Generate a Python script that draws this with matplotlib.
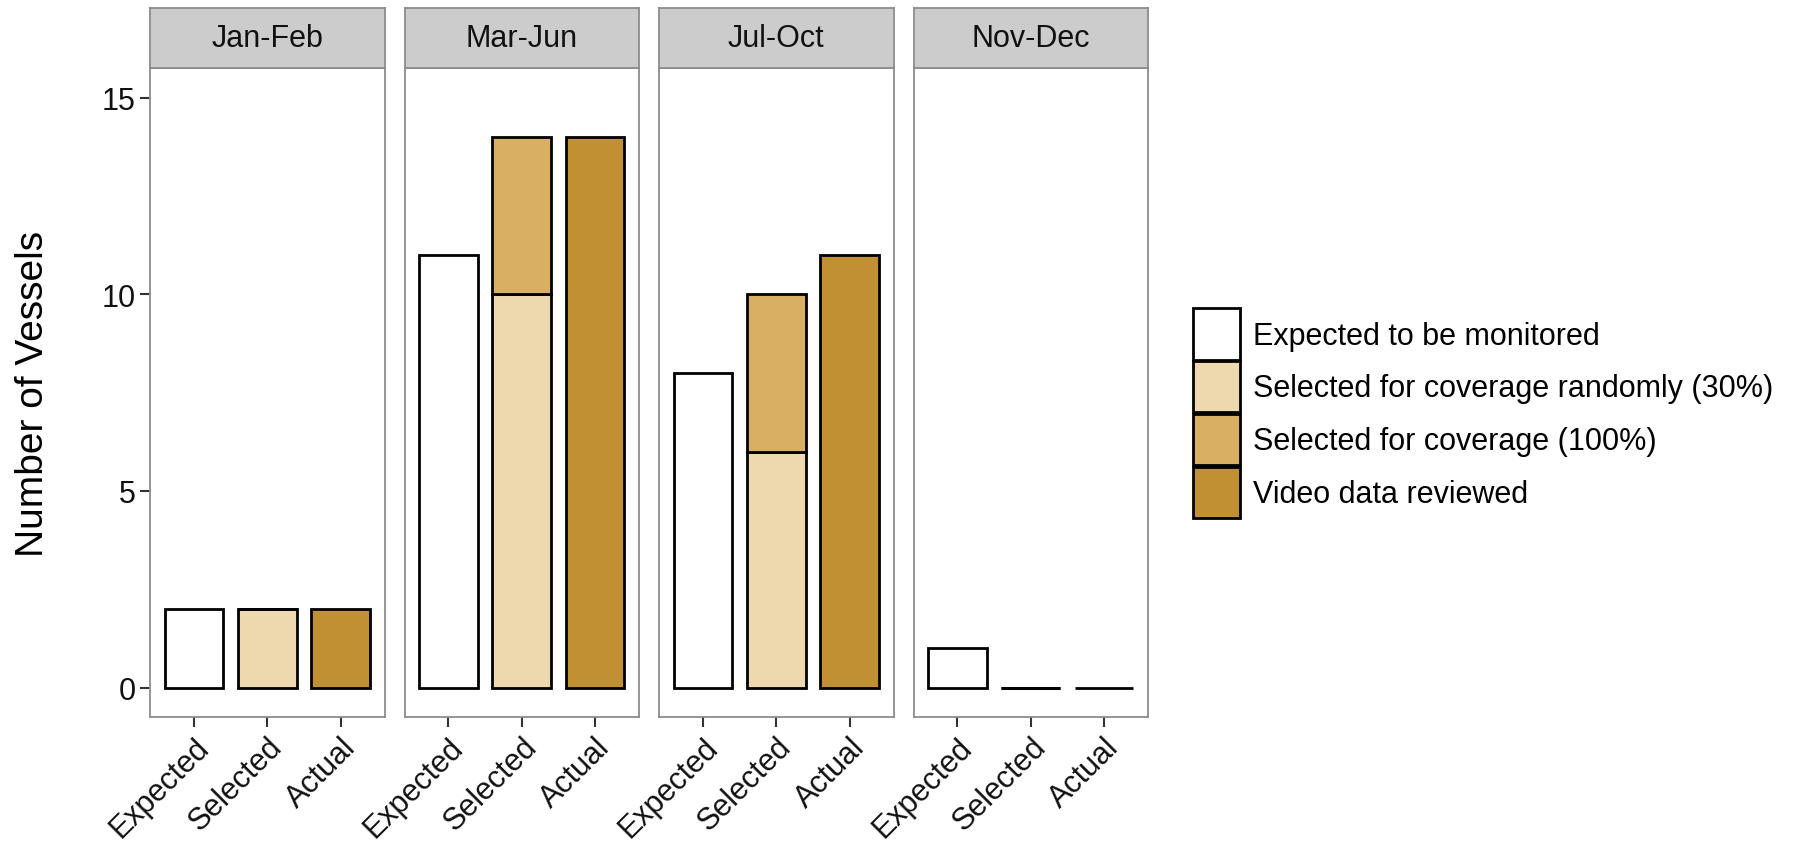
import matplotlib as mpl
import numpy as np

mpl.use('agg')

import matplotlib.pyplot as plt
from matplotlib.patches import Patch

plt.rcParams['font.family'] = ['Liberation Sans', 'DejaVu Sans']

periods = ['Jan-Feb', 'Mar-Jun', 'Jul-Oct', 'Nov-Dec']
categories = ['Expected', 'Selected', 'Actual']

expected = [2, 11, 8, 1]
selected_random = [2, 10, 6, 0]
selected_full = [0, 4, 4, 0]
actual = [2, 14, 11, 0]

labels = ['Expected to be monitored', 'Selected for coverage randomly (30%)',
          'Selected for coverage (100%)', 'Video data reviewed']
colors = ['#ffffff', '#eed8ae', '#d9b063', '#c09033']

fig = plt.figure(figsize=(17.94, 8.45), dpi=100)

left = 150 / 1794
w = 234.5 / 1794
gap = 20 / 1794
bottom = 1 - 718 / 845
top = 1 - 69 / 845
strip_h = 60 / 845
border = '#8c8c8c'

x = np.arange(1, 4)
for i, p in enumerate(periods):
    ax = fig.add_axes([left + i * (w + gap), bottom, w, top - bottom])
    kw = dict(width=0.8, edgecolor='black', linewidth=2, zorder=3)
    ax.bar(x[0], expected[i], color=colors[0], **kw)
    ax.bar(x[1], selected_random[i], color=colors[1], **kw)
    ax.bar(x[1], selected_full[i], bottom=selected_random[i], color=colors[2], **kw)
    ax.bar(x[2], actual[i], color=colors[3], **kw)
    ax.set_xlim(0.4, 3.6)
    ax.set_ylim(-0.75, 15.75)
    ax.set_yticks([0, 5, 10, 15])
    ax.set_xticks(x)
    ax.set_xticklabels(categories, rotation=45, ha='right', rotation_mode='anchor')
    ax.tick_params(axis='both', length=7, width=1.5, color='#333333',
                   labelsize=22, labelcolor='#111111')
    if i > 0:
        ax.tick_params(axis='y', length=0, labelleft=False)
    for s in ax.spines.values():
        s.set_color(border)
        s.set_linewidth(1.3)
    # strip header
    sax = fig.add_axes([left + i * (w + gap), top, w, strip_h])
    sax.set_facecolor('#cccccc')
    sax.set_xticks([])
    sax.set_yticks([])
    for s in sax.spines.values():
        s.set_color(border)
        s.set_linewidth(1.3)
    sax.text(0.5, 0.5, p, ha='center', va='center', fontsize=22, color='#111111',
             transform=sax.transAxes)
    if i == 0:
        ax.set_ylabel('Number of Vessels', fontsize=28, labelpad=36)

handles = [Patch(facecolor=c, edgecolor='black', linewidth=2) for c in colors]
fig.legend(handles, labels, loc='center left', bbox_to_anchor=(0.665, 0.51),
           frameon=False, fontsize=22, handlelength=1.55, handleheight=2.2,
           labelspacing=0.05, handletextpad=0.42, borderpad=0, borderaxespad=0)

fig.savefig('out.png', dpi=100)
